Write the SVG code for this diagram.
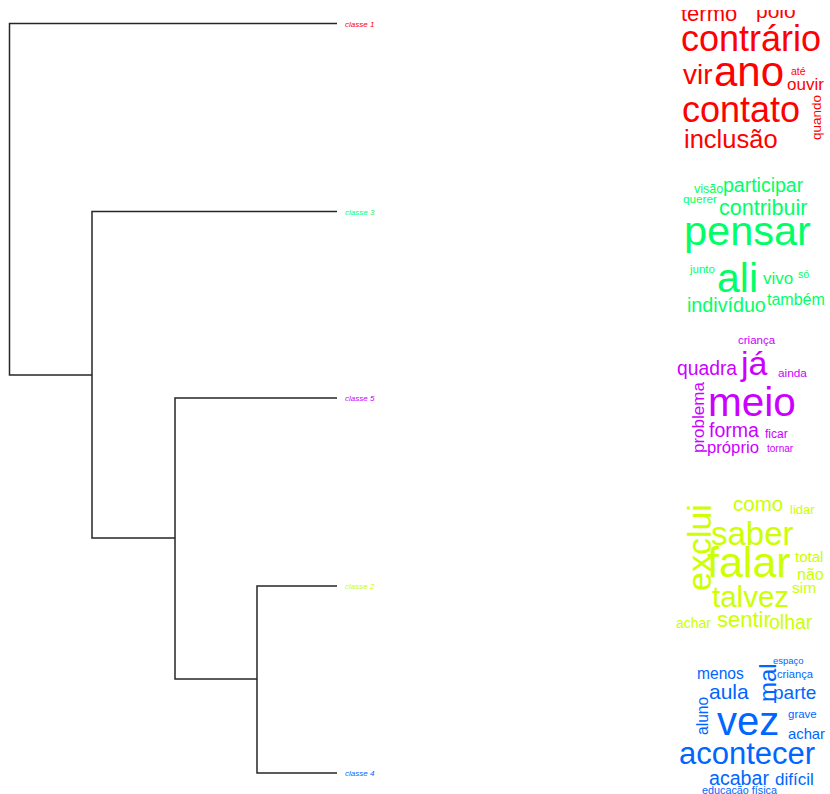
<svg xmlns="http://www.w3.org/2000/svg" width="830" height="794" viewBox="0 0 830 794">
<style>
.ln{fill:none;stroke:#262626;stroke-width:1.5}
.lb{font-family:"Liberation Sans",Arial,sans-serif;font-style:italic;font-size:8px}
.w{font-family:"Liberation Sans",Arial,sans-serif}
.r{fill:#FF0000}.g{fill:#00FF66}.m{fill:#CC00FF}.y{fill:#CCFF00}.b{fill:#0066FF}
</style>
<defs>
<clipPath id="cr"><rect x="660" y="10" width="170" height="160"/></clipPath>
<clipPath id="cb"><rect x="660" y="659" width="170" height="135"/></clipPath>
</defs>
<rect width="830" height="794" fill="#fff"/>
<g id="connectors">
<path class="ln" d="M337,23.5 H9.5 V375 H92"/>
<path class="ln" d="M337,211.5 H92 V538 H175"/>
<path class="ln" d="M337,398 H175 V679 H257"/>
<path class="ln" d="M337,586 H257 V773 H337"/>
</g>
<g id="label1"><text class="lb r" x="345" y="26.5">classe 1</text></g>
<g id="label3"><text class="lb g" x="345" y="214.5">classe 3</text></g>
<g id="label5"><text class="lb m" x="345" y="401">classe 5</text></g>
<g id="label2"><text class="lb y" x="345" y="589">classe 2</text></g>
<g id="label4"><text class="lb b" x="345" y="776">classe 4</text></g>
<g id="cloud1" class="w r" clip-path="url(#cr)">
<text x="681" y="21" font-size="22">termo</text>
<text x="756" y="18" font-size="21">polo</text>
<text x="681" y="51" font-size="36">contrário</text>
<text x="683" y="84" font-size="28">vir</text>
<text x="714" y="86" font-size="42">ano</text>
<text x="791" y="75" font-size="10.5">até</text>
<text x="787" y="90" font-size="17">ouvir</text>
<text x="682" y="122" font-size="36">contato</text>
<text transform="translate(821,140) rotate(-90)" font-size="13.5">quando</text>
<text x="684" y="148" font-size="25.5">inclusão</text>
</g>
<g id="cloud3" class="w g">
<text x="694" y="193" font-size="12.5">visão</text>
<text x="723" y="192" font-size="19.5">participar</text>
<text x="683" y="203" font-size="11.7">querer</text>
<text x="719" y="215" font-size="21.5">contribuir</text>
<text x="684" y="245" font-size="41.5">pensar</text>
<text x="690" y="273" font-size="11.5">junto</text>
<text x="717" y="292" font-size="41">ali</text>
<text x="763" y="284" font-size="17">vivo</text>
<text x="798" y="278" font-size="10.5">só</text>
<text x="687" y="312" font-size="19.7">indivíduo</text>
<text x="767" y="305" font-size="16">também</text>
</g>
<g id="cloud5" class="w m">
<text x="738" y="344" font-size="11.5">criança</text>
<text x="741" y="375" font-size="34">já</text>
<text x="677" y="375" font-size="19.3">quadra</text>
<text x="778" y="377" font-size="11.8">ainda</text>
<text x="708" y="416" font-size="40.5">meio</text>
<text transform="translate(704,453) rotate(-90)" font-size="17">problema</text>
<text x="709" y="437" font-size="19.5">forma</text>
<text x="765" y="438" font-size="12">ficar</text>
<text x="707" y="453" font-size="16.7">próprio</text>
<text x="767" y="452" font-size="10">tornar</text>
</g>
<g id="cloud2" class="w y">
<text x="733" y="511" font-size="20.5">como</text>
<text x="790" y="514" font-size="13">lidar</text>
<text transform="translate(711,591) rotate(-90)" font-size="34">exclui</text>
<text x="711" y="545" font-size="33">saber</text>
<text x="707" y="577" font-size="43">falar</text>
<text x="795" y="562" font-size="15">total</text>
<text x="797" y="580" font-size="16">não</text>
<text x="792" y="593" font-size="15.5">sim</text>
<text x="712" y="607" font-size="29.5">talvez</text>
<text x="676" y="628" font-size="14">achar</text>
<text x="717" y="627" font-size="22">sentir</text>
<text x="769" y="629" font-size="19.5">olhar</text>
</g>
<g id="cloud4" class="w b" clip-path="url(#cb)">
<text x="773" y="664" font-size="9.5">espaço</text>
<text transform="translate(776,702) rotate(-90)" font-size="24">mal</text>
<text x="697" y="679" font-size="15.6">menos</text>
<text x="777" y="678" font-size="11.2">criança</text>
<text x="709" y="699" font-size="21">aula</text>
<text x="773" y="699" font-size="19">parte</text>
<text transform="translate(708,735) rotate(-90)" font-size="15.6">aluno</text>
<text x="717" y="735" font-size="40">vez</text>
<text x="788" y="718" font-size="11.5">grave</text>
<text x="788" y="739" font-size="14.8">achar</text>
<text x="679" y="764" font-size="31">acontecer</text>
<text x="709" y="785" font-size="19.6">acabar</text>
<text x="775" y="785" font-size="17">difícil</text>
<text x="702" y="794" font-size="10.8">educação física</text>
</g>
</svg>
